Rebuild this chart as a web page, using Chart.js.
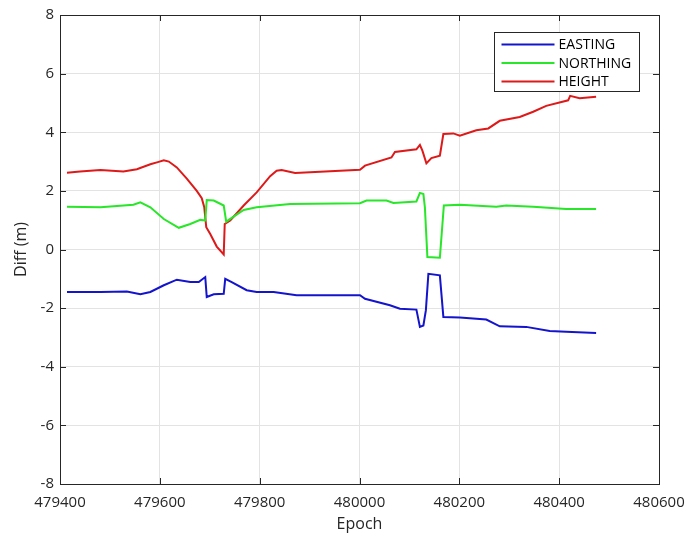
<!DOCTYPE html>
<html>
<head>
<meta charset="utf-8">
<script src="https://cdn.jsdelivr.net/npm/chart.js@4.4.0/dist/chart.umd.min.js"></script>
<style>
  html, body { margin: 0; padding: 0; background: #fff; }
  #wrap { width: 689px; height: 536px; }
</style>
</head>
<body>
<div id="wrap"><canvas id="chart"></canvas></div>
<script>
// values (epoch, difference in metres)
var eastEpoch = [479414, 479481, 479534, 479561, 479581, 479608, 479634, 479661, 479678, 479691, 479694, 479708, 479728, 479731, 479744, 479774, 479794, 479828, 479874, 480001, 480011, 480061, 480081, 480114, 480121, 480128, 480133, 480138, 480161, 480168, 480201, 480254, 480281, 480334, 480381, 480414, 480474];
var eastDiff = [-1.45, -1.45, -1.43, -1.53, -1.45, -1.22, -1.03, -1.11, -1.11, -0.94, -1.62, -1.53, -1.51, -1.00, -1.11, -1.39, -1.45, -1.45, -1.56, -1.56, -1.68, -1.90, -2.02, -2.05, -2.64, -2.59, -2.07, -0.83, -0.88, -2.30, -2.32, -2.39, -2.62, -2.64, -2.78, -2.81, -2.85];

var northEpoch = [479414, 479481, 479547, 479561, 479581, 479608, 479638, 479661, 479681, 479691, 479694, 479708, 479728, 479733, 479744, 479768, 479794, 479861, 480001, 480014, 480054, 480068, 480114, 480121, 480128, 480131, 480136, 480161, 480169, 480201, 480274, 480294, 480348, 480414, 480474];
var northDiff = [1.46, 1.44, 1.53, 1.61, 1.44, 1.04, 0.74, 0.87, 1.01, 0.99, 1.69, 1.67, 1.50, 0.95, 1.08, 1.35, 1.44, 1.55, 1.58, 1.67, 1.67, 1.59, 1.64, 1.93, 1.89, 1.44, -0.26, -0.28, 1.50, 1.53, 1.46, 1.50, 1.46, 1.38, 1.38];

var heightEpoch = [479414, 479440, 479481, 479527, 479554, 479581, 479596, 479608, 479618, 479634, 479654, 479674, 479684, 479689, 479693, 479701, 479714, 479728, 479730, 479741, 479768, 479794, 479821, 479834, 479844, 479871, 480001, 480011, 480064, 480071, 480114, 480121, 480126, 480134, 480144, 480161, 480168, 480188, 480201, 480234, 480258, 480281, 480321, 480348, 480374, 480418, 480422, 480441, 480474];
var heightDiff = [2.62, 2.66, 2.71, 2.66, 2.74, 2.91, 2.98, 3.04, 3.00, 2.80, 2.42, 2.00, 1.75, 1.44, 0.76, 0.53, 0.10, -0.17, 0.87, 0.99, 1.50, 1.95, 2.50, 2.69, 2.71, 2.61, 2.72, 2.86, 3.14, 3.33, 3.42, 3.57, 3.37, 2.94, 3.12, 3.20, 3.94, 3.96, 3.88, 4.07, 4.13, 4.39, 4.52, 4.70, 4.90, 5.09, 5.24, 5.16, 5.21];

var seriesNames = ['EASTING', 'NORTHING', 'HEIGHT'];
var seriesColors = ['rgb(20,20,205)', 'rgb(40,230,40)', 'rgb(222,25,25)'];

var xTicks = [479400, 479600, 479800, 480000, 480200, 480400, 480600];
var yTicks = [-8, -6, -4, -2, 0, 2, 4, 6, 8];

function toPoints(xs, ys) {
  return xs.map(function(x, i) {
    return { x: x, y: ys[i] };
  });
}

var textColor = '#262626';
var fontFamily = '"Open Sans", "DejaVu Sans", sans-serif';

// frame, inward ticks and the legend box inside the axes
var framePlugin = {
  id: 'frame',
  afterDraw: function(chart) {
    var ctx = chart.ctx;
    var a = chart.chartArea;
    var xs = chart.scales.x;
    var ys = chart.scales.y;
    ctx.save();
    ctx.strokeStyle = textColor;
    ctx.lineWidth = 1;
    ctx.strokeRect(Math.round(a.left) + 0.5, Math.round(a.top) + 0.5, Math.round(a.right - a.left), Math.round(a.bottom - a.top));
    ctx.beginPath();
    xTicks.forEach(function(t) {
      var px = Math.round(xs.getPixelForValue(t)) + 0.5;
      ctx.moveTo(px, a.bottom); ctx.lineTo(px, a.bottom - 6);
      ctx.moveTo(px, a.top); ctx.lineTo(px, a.top + 6);
    });
    yTicks.forEach(function(t) {
      var py = Math.round(ys.getPixelForValue(t)) + 0.5;
      ctx.moveTo(a.left, py); ctx.lineTo(a.left + 6, py);
      ctx.moveTo(a.right, py); ctx.lineTo(a.right - 6, py);
    });
    ctx.stroke();

    // legend
    var bx = Math.round(a.right) - 164.5;
    var by = Math.round(a.top) + 17.5;
    var bw = 145, bh = 59;
    ctx.fillStyle = '#fff';
    ctx.fillRect(bx, by, bw, bh);
    ctx.strokeStyle = textColor;
    ctx.strokeRect(bx, by, bw, bh);
    ctx.font = '14px ' + fontFamily;
    ctx.textBaseline = 'middle';
    chart.data.datasets.forEach(function(ds, i) {
      var ly = by + 12 + i * 18.5;
      ctx.strokeStyle = ds.borderColor;
      ctx.lineWidth = 2;
      ctx.beginPath();
      ctx.moveTo(bx + 7, ly);
      ctx.lineTo(bx + 60, ly);
      ctx.stroke();
      ctx.fillStyle = '#000';
      ctx.fillText(ds.label, bx + 64, ly + 1);
    });
    ctx.restore();
  }
};

var ctx = document.getElementById('chart').getContext('2d');
var chart = new Chart(ctx, {
  type: 'line',
  data: {
    datasets: [
      { label: seriesNames[0], data: toPoints(eastEpoch, eastDiff), borderColor: seriesColors[0] },
      { label: seriesNames[1], data: toPoints(northEpoch, northDiff), borderColor: seriesColors[1] },
      { label: seriesNames[2], data: toPoints(heightEpoch, heightDiff), borderColor: seriesColors[2] }
    ]
  },
  options: {
    responsive: true,
    maintainAspectRatio: false,
    animation: false,
    layout: { padding: { top: 14, right: 30, left: 0, bottom: 0 } },
    elements: {
      line: { borderWidth: 2, tension: 0, fill: false },
      point: { radius: 0 }
    },
    plugins: {
      legend: { display: false },
      tooltip: { enabled: false }
    },
    scales: {
      x: {
        type: 'linear',
        min: 479400,
        max: 480600,
        afterBuildTicks: function(scale) {
          scale.ticks = xTicks.map(function(v) { return { value: v }; });
        },
        afterFit: function(scale) {
          scale.height = 52;
          scale.paddingLeft = 0;
          scale.paddingRight = 0;
        },
        grid: { color: '#e3e3e3', drawTicks: false },
        border: { display: false },
        ticks: {
          color: textColor,
          padding: 10,
          maxRotation: 0,
          font: { family: fontFamily, size: 15 },
          callback: function(v) { return String(v); }
        },
        title: {
          display: true,
          text: 'Epoch',
          color: textColor,
          padding: { top: 0, bottom: 2 },
          font: { family: fontFamily, size: 16 }
        }
      },
      y: {
        min: -8,
        max: 8,
        afterBuildTicks: function(scale) {
          scale.ticks = yTicks.map(function(v) { return { value: v }; });
        },
        afterFit: function(scale) { scale.width = 60; },
        grid: { color: '#e3e3e3', drawTicks: false },
        border: { display: false },
        ticks: {
          color: textColor,
          padding: 6,
          font: { family: fontFamily, size: 15 }
        },
        title: {
          display: true,
          text: 'Diff (m)',
          color: textColor,
          padding: { top: 12, bottom: 0 },
          font: { family: fontFamily, size: 16 }
        }
      }
    }
  },
  plugins: [framePlugin]
});
</script>
</body>
</html>
